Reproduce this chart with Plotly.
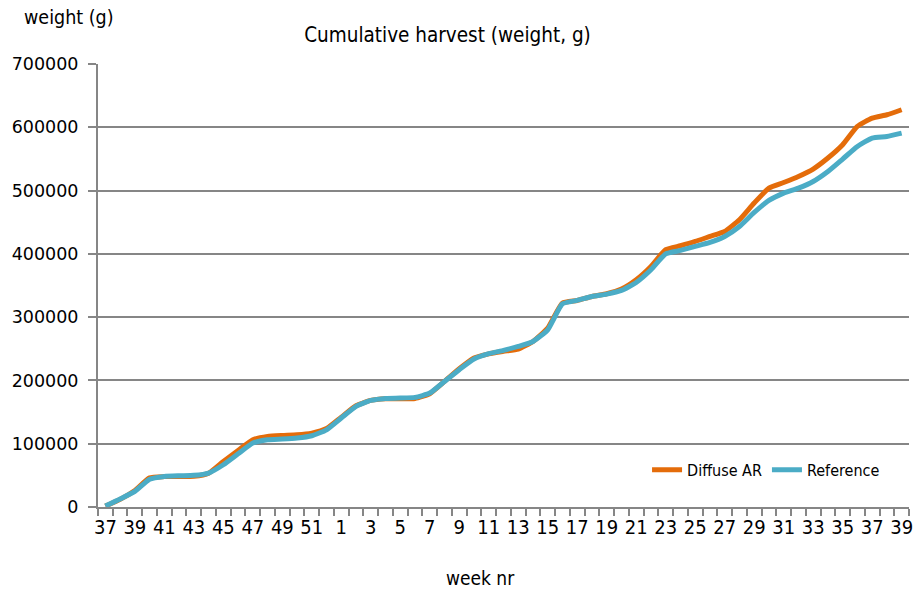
import plotly.graph_objects as go

weeks = ["37", "38", "39", "40", "41", "42", "43", "44", "45", "46", "47", "48",
         "49", "50", "51", "52", "1", "2", "3", "4", "5", "6", "7", "8", "9", "10",
         "11", "12", "13", "14", "15", "16", "17", "18", "19", "20", "21", "22",
         "23", "24", "25", "26", "27", "28", "29", "30", "31", "32", "33", "34",
         "35", "36", "37", "38", "39"]

diffuse_ar = [1500, 12000, 26000, 46000, 48000, 48000, 48500, 53500, 72000, 89400,
              106300, 111500, 113000, 114000, 116800, 124000, 142000, 160000, 168400, 171000,
              171000, 171500, 179000, 198400, 218500, 235500, 242000, 246000, 249600, 261600,
              282800, 322300, 326400, 332700, 337000, 344400, 359100, 380100, 406500, 412800,
              419600, 427500, 435400, 453900, 480300, 503900, 512800, 522300, 534000, 551400,
              572400, 601300, 614500, 619800, 627700]

reference = [1500, 12600, 24600, 44000, 48300, 49400, 50000, 53700, 66800, 84000,
             101000, 106300, 107400, 109000, 112600, 122000, 140600, 159000, 168400, 171600,
             172100, 173200, 180000, 198400, 217000, 233800, 242200, 247500, 253700, 261600,
             280000, 321000, 326400, 332700, 336400, 342200, 354800, 374900, 400000, 405400,
             411700, 418000, 427500, 443300, 465400, 484400, 496000, 503900, 514400, 530200,
             549800, 569700, 583000, 585500, 590800]

series_names = ["Diffuse AR", "Reference"]
colors = ["#E46C0A", "#4BACC6"]

x = list(range(len(weeks)))
tick_idx = x[::2]
tick_txt = [weeks[i] for i in tick_idx]

GRID = "#868686"
FONT = "DejaVu Sans Condensed, sans-serif"
YFONT = "DejaVu Sans, sans-serif"

W, H = 914, 590
ML, MR, MT, MB = 98, 5, 64, 83
pw = W - ML - MR
ph = H - MT - MB

fig = go.Figure()
for name, vals, col in zip(series_names, [diffuse_ar, reference], colors):
    fig.add_trace(go.Scatter(
        x=x, y=vals, name=name, mode="lines",
        line=dict(color=col, width=5, shape="spline", smoothing=0.5),
    ))

fig.update_layout(
    width=W, height=H,
    margin=dict(l=ML, r=MR, t=MT, b=MB, autoexpand=False),
    paper_bgcolor="white", plot_bgcolor="white",
    font=dict(family=FONT, size=16, color="#000000"),
    title=dict(text="Cumulative harvest (weight, g)", x=447.5 / W, xref="container", xanchor="center",
               y=1 - 35 / H, yref="container", yanchor="middle",
               font=dict(family=FONT, size=20.5, color="#000000")),
    showlegend=True,
    legend=dict(orientation="h", x=0.677, y=0.084, xanchor="left", yanchor="middle",
                bgcolor="rgba(0,0,0,0)", font=dict(family=FONT, size=16, color="#000000"),
                traceorder="normal"),
    xaxis=dict(
        range=[-0.5, len(weeks) - 0.5],
        tickmode="array", tickvals=tick_idx, ticktext=tick_txt,
        ticks="outside", ticklen=1, tickcolor="rgba(0,0,0,0)",
        tickfont=dict(family=FONT, size=20, color="#000000"),
        showline=True, linecolor=GRID, linewidth=2,
        showgrid=False, zeroline=False,
        minor=dict(tickmode="linear", tick0=-0.5, dtick=1, ticks="outside",
                   ticklen=7, tickcolor=GRID, tickwidth=1.5, showgrid=False),
    ),
    yaxis=dict(
        range=[0, 700000], tickmode="linear", tick0=0, dtick=100000,
        tickformat="d",
        ticks="outside", ticklen=8, tickcolor=GRID, tickwidth=1.5,
        ticklabelstandoff=6,
        tickfont=dict(family=YFONT, size=17.5, color="#000000"),
        showline=True, linecolor=GRID, linewidth=2,
        showgrid=True, gridcolor=GRID, gridwidth=2, zeroline=False,
    ),
    annotations=[
        dict(text="weight (g)", x=(22 - ML) / pw, y=(H - MB - 18) / ph, xref="paper", yref="paper",
             xanchor="left", yanchor="middle", showarrow=False,
             font=dict(family=FONT, size=19.5, color="#000000")),
        dict(text="week nr", x=(480 - ML) / pw, y=-(578 - (H - MB)) / ph, xref="paper", yref="paper",
             xanchor="center", yanchor="middle", showarrow=False,
             font=dict(family=FONT, size=19, color="#000000")),
    ],
)

fig.write_html("out.html", config={"displayModeBar": False},
               post_script="document.body.style.margin='0';document.body.style.overflow='hidden';")
